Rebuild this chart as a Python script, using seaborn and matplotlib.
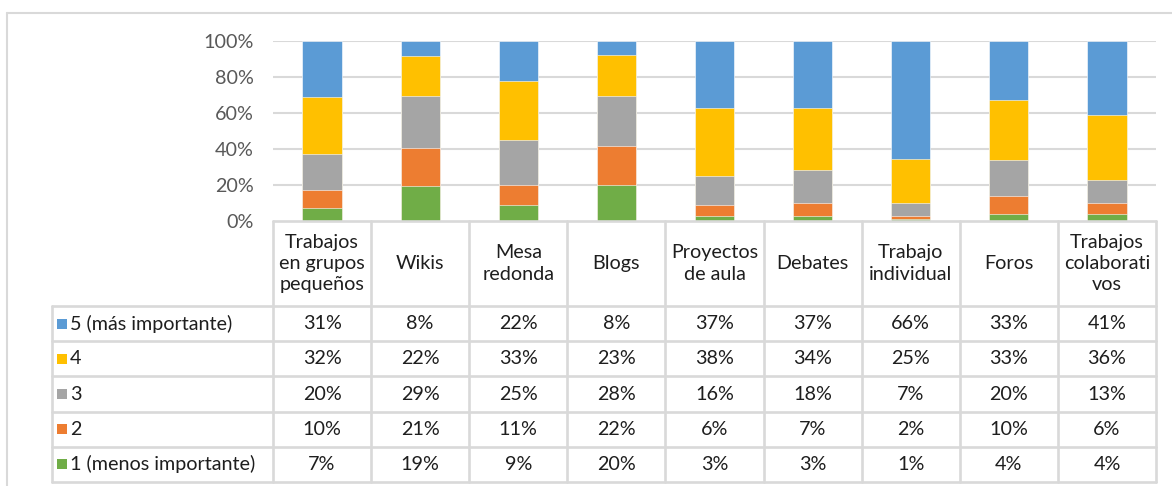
import matplotlib
matplotlib.use("Agg")
import matplotlib.pyplot as plt
from matplotlib.lines import Line2D
from matplotlib.patches import Rectangle
import numpy as np
import pandas as pd
import seaborn as sns

# ── data ──────────────────────────────────────────────────────────────
categorias = ["Trabajos\nen grupos\npequeños", "Wikis", "Mesa\nredonda", "Blogs",
              "Proyectos\nde aula", "Debates", "Trabajo\nindividual", "Foros",
              "Trabajos\ncolaborati\nvos"]
niveles = ["5 (más importante)", "4", "3", "2", "1 (menos importante)"]
nivel5 = [31, 8, 22, 8, 37, 37, 66, 33, 41]
nivel4 = [32, 22, 33, 23, 38, 34, 25, 33, 36]
nivel3 = [20, 29, 25, 28, 16, 18, 7, 20, 13]
nivel2 = [10, 21, 11, 22, 6, 7, 2, 10, 6]
nivel1 = [7, 19, 9, 20, 3, 3, 1, 4, 4]
colores = ["#5B9BD5", "#FFC000", "#A5A5A5", "#ED7D31", "#70AD47"]
yticks = [0, 20, 40, 60, 80, 100]

W, H = 1172, 486
GRID = "#D9D9D9"
FONT = "Lato"
FS = 14.2
TXT = "#1e1e1e"

series = [nivel5, nivel4, nivel3, nivel2, nivel1]
vals = np.array(series, dtype=float)            # rows: level 5 .. 1
total = vals.sum(axis=0)
# cumulative from the bottom (level 1) up, as a share of the total
cum = np.cumsum(vals[::-1], axis=0)[::-1] / total * 100

rows = []
for nivel, c in zip(niveles, cum):
    for cat, v in zip(categorias, c):
        rows.append({"categoria": cat, "nivel": nivel, "cum": v})
df = pd.DataFrame(rows)

sns.set_theme(style="white")
plt.rcParams["font.family"] = [FONT, "DejaVu Sans"]


def fx(x):
    return x / W


def fy(y):
    return 1 - y / H


fig = plt.figure(figsize=(W / 100, H / 100), dpi=100)

# outer chart frame (only top and left visible in the crop)
fig.add_artist(Line2D([fx(7), fx(7)], [fy(13), 0], color=GRID, lw=1.5))
fig.add_artist(Line2D([fx(7), 1], [fy(13), fy(13)], color=GRID, lw=1.5))

# ── stacked bars ──────────────────────────────────────────────────────
x0, x1, ytop, ybot = 273, 1156, 41, 221
ax = fig.add_axes([fx(x0), fy(ybot), (x1 - x0) / W, (ybot - ytop) / H])
for nivel, color in zip(niveles, colores):
    sns.barplot(data=df[df["nivel"] == nivel], x="categoria", y="cum",
                order=categorias, color=color, saturation=1, width=0.4,
                errorbar=None, edgecolor="white", linewidth=0.4, ax=ax, zorder=3)
ax.set_xlim(-0.5, len(categorias) - 0.5)
ax.set_ylim(0, 100)
ax.set_yticks(yticks)
ax.set_yticklabels([f"{t}%" for t in yticks], color="#595959", fontsize=FS)
ax.tick_params(axis="y", length=0, pad=14)
ax.set_xticks([])
ax.set_xlabel("")
ax.set_ylabel("")
for t in yticks[1:]:
    ax.axhline(t, color=GRID, lw=1.5, zorder=1)
for s in ax.spines.values():
    s.set_visible(False)

# ── data table below the bars (same category units on x) ──────────────
colw = (x1 - x0) / len(categorias)
tleft, tbot = 52, 482
tax = fig.add_axes([fx(tleft), fy(tbot), (x1 - tleft) / W, (tbot - ybot) / H])
xl = -0.5 - (x0 - tleft) / colw
xr = len(categorias) - 0.5
head_h = 85
row_h = (tbot - ybot - head_h) / len(niveles)
tax.set_xlim(xl, xr)
tax.set_ylim(tbot - ybot, 0)
tax.axis("off")

lw = 1.9
# header row borders
tax.plot([-0.5, xr], [0, 0], color=GRID, lw=lw, clip_on=False)
for i in range(len(categorias) + 1):
    tax.plot([i - 0.5, i - 0.5], [0, tbot - ybot], color=GRID, lw=lw, clip_on=False)
tax.plot([xl, xl], [head_h, tbot - ybot], color=GRID, lw=lw, clip_on=False)
for r in range(len(niveles) + 1):
    yy = head_h + r * row_h
    tax.plot([xl, xr], [yy, yy], color=GRID, lw=lw, clip_on=False)

for i, cat in enumerate(categorias):
    tax.text(i, head_h / 2, cat, ha="center", va="center", fontsize=FS,
             color=TXT, linespacing=1.32)

px = 1 / colw  # one pixel in column units
for r, (nivel, color, serie) in enumerate(zip(niveles, colores, series)):
    yc = head_h + (r + 0.5) * row_h
    tax.add_patch(Rectangle((xl + 5 * px, yc - 5), 10 * px, 10,
                            color=color, lw=0, clip_on=False))
    tax.text(xl + 18 * px, yc, nivel, ha="left", va="center", fontsize=FS,
             color=TXT)
    for i, v in enumerate(serie):
        tax.text(i, yc, f"{v}%", ha="center", va="center", fontsize=FS,
                 color=TXT)

fig.savefig("out.png", dpi=100)
